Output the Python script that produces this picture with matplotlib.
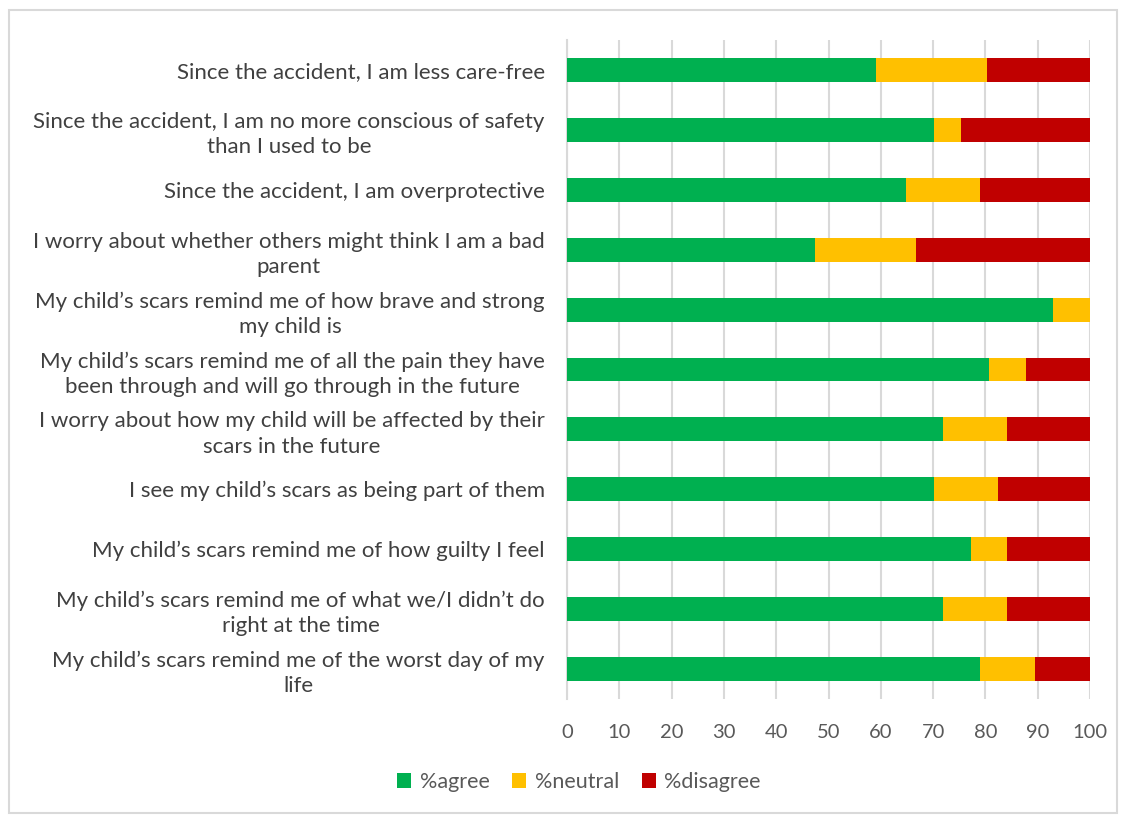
import matplotlib
matplotlib.use("Agg")
import matplotlib.pyplot as plt
from matplotlib.patches import Rectangle
import numpy as np

categories = [
    "Since the accident, I am less care-free",
    "Since the accident, I am no more conscious of safety\nthan I used to be",
    "Since the accident, I am overprotective",
    "I worry about whether others might think I am a bad\nparent",
    "My child\u2019s scars remind me of how brave and strong\nmy child is",
    "My child\u2019s scars remind me of all the pain they have\nbeen through and will go through in the future",
    "I worry about how my child will be affected by their\nscars in the future",
    "I see my child\u2019s scars as being part of them",
    "My child\u2019s scars remind me of how guilty I feel",
    "My child\u2019s scars remind me of what we/I didn\u2019t do\nright at the time",
    "My child\u2019s scars remind me of the worst day of my\nlife",
]
agree = [59.0, 70.1, 64.8, 47.4, 92.9, 80.7, 71.9, 70.1, 77.2, 71.9, 79.0]
neutral = [21.4, 5.3, 14.2, 19.3, 7.1, 7.0, 12.3, 12.4, 7.0, 12.3, 10.5]
disagree = [19.6, 24.6, 21.0, 33.3, 0.0, 12.3, 15.8, 17.5, 15.8, 15.8, 10.5]
series_names = ["%agree", "%neutral", "%disagree"]
colors = ["#00B050", "#FFC000", "#C00000"]
xticks = [0, 10, 20, 30, 40, 50, 60, 70, 80, 90, 100]

plt.rcParams['font.family'] = ['Lato', 'DejaVu Sans']
fig = plt.figure(figsize=(11.23, 8.16), dpi=100)
ax = fig.add_axes([567/1123, 1-699/816, (1090-567)/1123, (699-40)/816])

y = np.arange(len(categories))
left = np.zeros(len(categories))
for vals, name, c in zip([agree, neutral, disagree], series_names, colors):
    ax.barh(y, vals, left=left, height=0.4, color=c, label=name, zorder=3)
    left = left + np.array(vals)

ax.set_ylim(len(categories) - 0.5, -0.5)
ax.set_xlim(0, 100)
ax.set_xticks(xticks)
ax.set_yticks(y)
ax.set_yticklabels(categories, multialignment='center', fontsize=16, color='#404040',
                   linespacing=1.32)
ax.tick_params(axis='y', length=0, pad=16)
ax.tick_params(axis='x', length=0, pad=18, labelsize=14.5, labelcolor='#595959')
ax.grid(axis='x', color='#d9d9d9', linewidth=1.5, zorder=0)
for s in ['top', 'right', 'bottom']:
    ax.spines[s].set_visible(False)
ax.spines['left'].set_color('#d9d9d9')
ax.spines['left'].set_linewidth(1.5)

leg = fig.legend(loc='center', bbox_to_anchor=(579/1123, 1-782/816), ncol=3, frameon=False,
                 fontsize=15.5, handlelength=0.65, handleheight=0.65, handletextpad=0.4,
                 columnspacing=1.05)
for t in leg.get_texts():
    t.set_color('#595959')

fig.patches.append(Rectangle((9/1123, 1-813/816), (1117-9)/1123, (813-10)/816,
                             transform=fig.transFigure, fill=False,
                             edgecolor='#d9d9d9', linewidth=1.5))

fig.savefig("out.png", dpi=100, facecolor='white')
